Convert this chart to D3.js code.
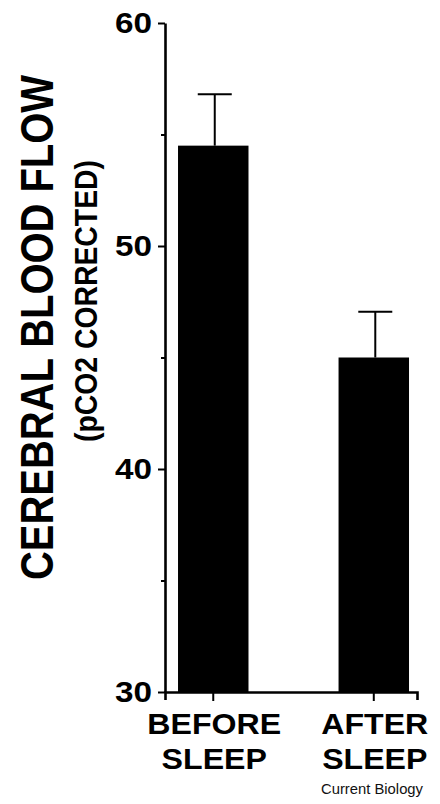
<!DOCTYPE html>
<html>
<head>
<meta charset="utf-8">
<script src="https://cdn.jsdelivr.net/npm/d3@7"></script>
<style>
  html, body { margin: 0; padding: 0; background: #fff; }
  svg { display: block; font-family: "Liberation Sans", Arial, Helvetica, sans-serif; }
</style>
</head>
<body>
<script>
// ---- data ----
const categories = ["BEFORE SLEEP", "AFTER SLEEP"];
const categoryLines = [["BEFORE", "SLEEP"], ["AFTER", "SLEEP"]];
const values = [54.5, 45.0];
const errors = [2.3, 2.05];
const yTicks = [30, 35, 40, 45, 50, 55, 60];
const yMajorTicks = [30, 40, 50, 60];
const yTitle = "CEREBRAL BLOOD FLOW";
const ySubtitle = "(pCO2 CORRECTED)";
const credit = "Current Biology";

// ---- layout ----
const W = 440, H = 804;
const svg = d3.select("body").append("svg").attr("width", W).attr("height", H);

const x = d3.scaleBand().domain(categories).range([165, 417])
  .paddingInner(0.561).paddingOuter(0.0654).align(0.62);
const y = d3.scaleLinear().domain([30, 60]).range([692, 23]);

// bars
svg.append("g").selectAll("rect").data(categories).join("rect")
  .attr("x", d => x(d))
  .attr("y", (d, i) => y(values[i]))
  .attr("width", x.bandwidth())
  .attr("height", (d, i) => y(30) - y(values[i]))
  .attr("fill", "#000");

// error bars
const eb = svg.append("g").attr("stroke", "#000").attr("stroke-width", 2);
categories.forEach((c, i) => {
  const cx = x(c) + x.bandwidth() / 2 + 1.5;
  eb.append("line").attr("x1", cx).attr("x2", cx)
    .attr("y1", y(values[i])).attr("y2", y(values[i] + errors[i]));
  eb.append("line").attr("x1", cx - 17).attr("x2", cx + 17)
    .attr("y1", y(values[i] + errors[i])).attr("y2", y(values[i] + errors[i]));
});

// y axis
const gy = svg.append("g").attr("transform", "translate(165,0)")
  .call(d3.axisLeft(y).tickValues(yTicks).tickSize(7).tickSizeOuter(0).tickPadding(6)
    .tickFormat(d => yMajorTicks.includes(d) ? String(d) : ""));
gy.select(".domain").attr("stroke", "#000").attr("stroke-width", 2.6);
gy.selectAll(".tick line").attr("stroke", "#000").attr("stroke-width", 2)
  .attr("x2", d => yMajorTicks.includes(d) ? -7 : -4);
gy.selectAll(".tick text")
  .attr("fill", "#000")
  .style("font-size", "29.5px").style("font-weight", "bold")
  .attr("font-family", null)
  .attr("textLength", d => yMajorTicks.includes(d) ? 37 : null)
  .attr("lengthAdjust", "spacingAndGlyphs");

// x axis
const gx = svg.append("g").attr("transform", "translate(0,692)")
  .call(d3.axisBottom(x).tickSize(9).tickSizeOuter(8).tickFormat(""));
gx.select(".domain").attr("stroke", "#000").attr("stroke-width", 2.6);
gx.selectAll(".tick line").attr("stroke", "#000").attr("stroke-width", 2);

// category labels
const lab = svg.append("g");
categories.forEach((c, i) => {
  const cx = x(c) + x.bandwidth() / 2 + 1;
  categoryLines[i].forEach((t, j) => {
    const el = lab.append("text")
      .attr("x", cx).attr("y", 734 + j * 35)
      .attr("text-anchor", "middle")
      .style("font-size", "30px").style("font-weight", "bold")
      .attr("fill", "#000").text(t);
    const w = el.node().getComputedTextLength();
    el.attr("textLength", w * 1.07).attr("lengthAdjust", "spacingAndGlyphs");
  });
});

// y title
svg.append("text")
  .attr("transform", "translate(52.5,327.5) rotate(-90)")
  .attr("text-anchor", "middle")
  .style("font-size", "47px").style("font-weight", "bold")
  .attr("textLength", 505).attr("lengthAdjust", "spacingAndGlyphs")
  .attr("fill", "#000").text(yTitle);

svg.append("text")
  .attr("transform", "translate(97,301) rotate(-90)")
  .attr("text-anchor", "middle")
  .style("font-size", "31px").style("font-weight", "bold")
  .attr("textLength", 282).attr("lengthAdjust", "spacingAndGlyphs")
  .attr("fill", "#000").text(ySubtitle);

// credit
svg.append("text")
  .attr("x", 423).attr("y", 794)
  .attr("text-anchor", "end")
  .style("font-size", "15px")
  .attr("textLength", 102).attr("lengthAdjust", "spacingAndGlyphs")
  .attr("fill", "#111").text(credit);
</script>
</body>
</html>
